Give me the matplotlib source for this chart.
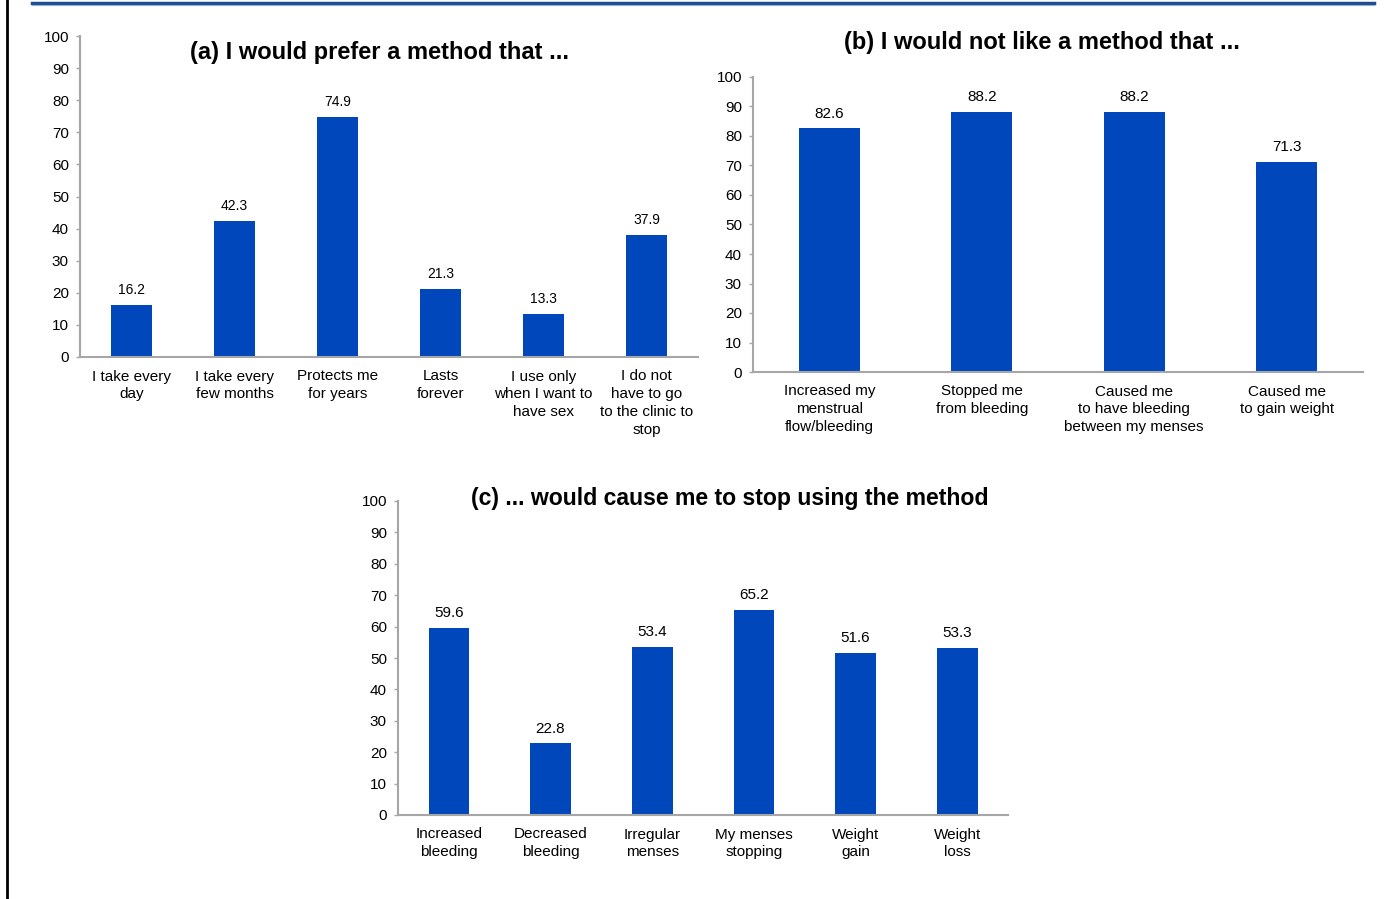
import matplotlib
matplotlib.use("Agg")
import matplotlib.pyplot as plt
from matplotlib.lines import Line2D

plt.rcParams['font.family'] = ['Liberation Sans', 'DejaVu Sans']

cats_a = ["I take every\nday", "I take every\nfew months", "Protects me\nfor years", "Lasts\nforever",
          "I use only\nwhen I want to\nhave sex", "I do not\nhave to go\nto the clinic to\nstop"]
vals_a = [16.2, 42.3, 74.9, 21.3, 13.3, 37.9]
title_a = "(a) I would prefer a method that ..."

cats_b = ["Increased my\nmenstrual\nflow/bleeding", "Stopped me\nfrom bleeding",
          "Caused me\nto have bleeding\nbetween my menses", "Caused me\nto gain weight"]
vals_b = [82.6, 88.2, 88.2, 71.3]
title_b = "(b) I would not like a method that ..."

cats_c = ["Increased\nbleeding", "Decreased\nbleeding", "Irregular\nmenses", "My menses\nstopping",
          "Weight\ngain", "Weight\nloss"]
vals_c = [59.6, 22.8, 53.4, 65.2, 51.6, 53.3]
title_c = "(c) ... would cause me to stop using the method"

yticks = list(range(0, 101, 10))

W, H = 1389, 899
fig = plt.figure(figsize=(W / 100, H / 100), dpi=100)

BAR = "#0047BB"
AX = "#A6A6A6"


def make_ax(left, bottom0, top100, right):
    return fig.add_axes([left / W, 1 - bottom0 / H, (right - left) / W, (bottom0 - top100) / H])


def draw(ax, cats, vals, title, title_xy, lblsize, tsize):
    x = list(range(len(cats)))
    ax.bar(x, vals, width=0.4, color=BAR)
    ax.set_xlim(-0.5, len(cats) - 0.5)
    ax.set_ylim(0, 100)
    ax.set_yticks(yticks)
    ax.set_xticks(x)
    ax.set_xticklabels(cats, fontsize=11, linespacing=1.35)
    ax.tick_params(axis='x', length=0, pad=9)
    ax.tick_params(axis='y', length=3, width=1, color=AX, labelsize=11, pad=5)
    for s in ['top', 'right']:
        ax.spines[s].set_visible(False)
    for s in ['left', 'bottom']:
        ax.spines[s].set_color(AX)
        ax.spines[s].set_linewidth(1.5)
    for xi, v in zip(x, vals):
        ax.text(xi, v + 2.5, f"{v:.1f}", ha='center', va='bottom', fontsize=lblsize)
    fig.text(title_xy[0] / W, 1 - title_xy[1] / H, title, ha='center', va='center',
             fontsize=tsize, fontweight='bold')


ax_a = make_ax(80, 357, 36, 698)
draw(ax_a, cats_a, vals_a, title_a, (379, 52), 10, 17)

ax_b = make_ax(753, 372, 77, 1363)
draw(ax_b, cats_b, vals_b, title_b, (1042, 43), 11, 17)

ax_c = make_ax(398, 815, 501, 1008)
draw(ax_c, cats_c, vals_c, title_c, (730, 499), 11, 16.6)

# decorative frame lines
fig.add_artist(Line2D([32 / W, 1374 / W], [1 - 2.5 / H, 1 - 2.5 / H], color="#1F4E8C", lw=2.5))
fig.add_artist(Line2D([32 / W, 1374 / W], [1 - 4.5 / H, 1 - 4.5 / H], color="#8FB0D8", lw=0.8))
fig.add_artist(Line2D([7 / W, 7 / W], [0, 1], color="black", lw=2))

fig.savefig("out.png", dpi=100)
